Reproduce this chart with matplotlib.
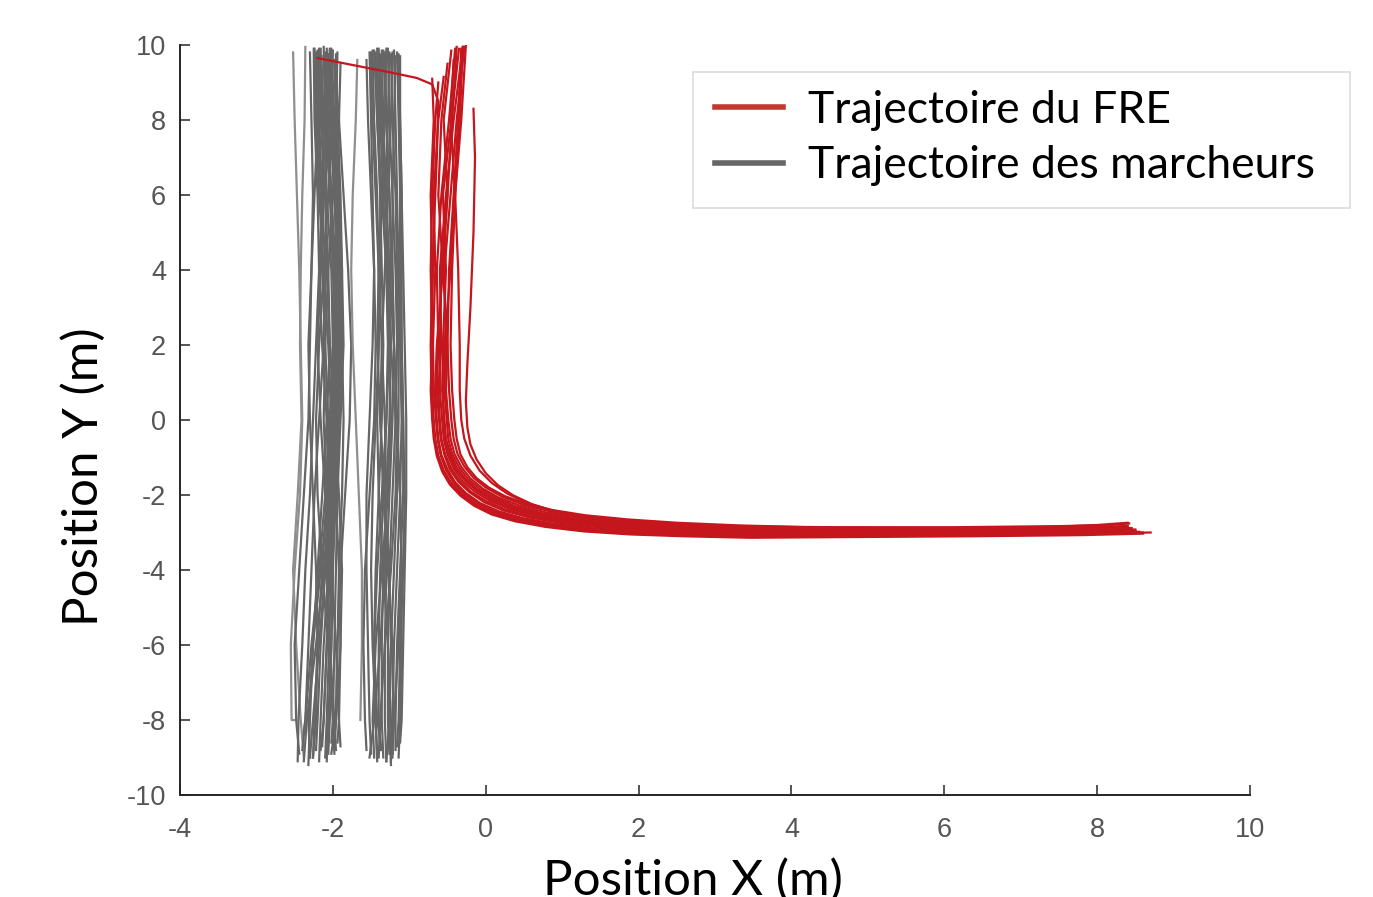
import matplotlib
matplotlib.use("Agg")
import matplotlib.pyplot as plt
from matplotlib.lines import Line2D
from matplotlib.patches import Rectangle

plt.rcParams["axes.unicode_minus"] = False

# ---- data: walker trajectories (x sampled at fixed y levels) ----
walker_levels = [8, 6, 4, 2, 0, -2, -4, -6, -8]

left_x = [
    [-2.52, -2.50, -2.47, -2.44, -2.42, -2.40, -2.43, -2.50, -2.55, -2.54, -2.50],
    [-2.36, -2.37, -2.40, -2.42, -2.43, -2.41, -2.46, -2.52, -2.48, -2.42, -2.38],
    [-2.25, -2.24, -2.20, -2.18, -2.22, -2.26, -2.30, -2.36, -2.40, -2.45, -2.46],
    [-2.20, -2.18, -2.14, -2.10, -2.12, -2.18, -2.24, -2.28, -2.32, -2.36, -2.38],
    [-2.18, -2.16, -2.10, -2.06, -2.04, -2.08, -2.14, -2.20, -2.26, -2.30, -2.32],
    [-2.15, -2.12, -2.08, -2.02, -2.00, -2.02, -2.08, -2.14, -2.20, -2.24, -2.26],
    [-2.12, -2.10, -2.04, -2.00, -1.96, -1.98, -2.04, -2.10, -2.16, -2.20, -2.22],
    [-2.10, -2.06, -2.02, -1.96, -1.94, -1.98, -2.02, -2.06, -2.12, -2.16, -2.18],
    [-2.08, -2.04, -1.98, -1.94, -1.92, -1.96, -2.00, -2.04, -2.08, -2.12, -2.14],
    [-2.06, -2.02, -1.96, -1.92, -1.90, -1.94, -1.98, -2.02, -2.05, -2.08, -2.10],
    [-2.04, -2.00, -1.94, -1.90, -1.88, -1.92, -1.96, -2.00, -2.02, -2.04, -2.06],
    [-2.02, -1.98, -1.92, -1.88, -1.86, -1.90, -1.94, -1.96, -1.98, -2.00, -2.02],
    [-1.98, -1.96, -1.92, -1.90, -1.88, -1.86, -1.88, -1.92, -1.94, -1.96, -1.98],
    [-2.22, -2.20, -2.16, -2.14, -2.10, -2.06, -2.02, -2.00, -2.02, -2.06, -2.08],
    [-2.16, -2.14, -2.12, -2.16, -2.20, -2.16, -2.10, -2.06, -2.08, -2.12, -2.16],
    [-2.08, -2.10, -2.14, -2.18, -2.14, -2.08, -2.06, -2.10, -2.18, -2.26, -2.30],
    [-2.00, -2.02, -2.06, -2.12, -2.18, -2.22, -2.20, -2.14, -2.06, -2.00, -1.98],
    [-1.94, -1.96, -2.00, -2.06, -2.10, -2.12, -2.08, -2.02, -1.96, -1.92, -1.90],
    [-2.24, -2.22, -2.18, -2.12, -2.06, -2.02, -2.04, -2.12, -2.22, -2.34, -2.38],
    [-2.12, -2.08, -2.02, -1.98, -2.00, -2.04, -2.10, -2.18, -2.28, -2.36, -2.40],
    [-1.90, -1.92, -1.94, -1.96, -1.98, -2.00, -1.96, -1.92, -1.90, -1.92, -1.94],
    [-2.30, -2.28, -2.26, -2.28, -2.30, -2.32, -2.38, -2.44, -2.50, -2.48, -2.44],
    [-2.04, -2.02, -1.98, -1.94, -1.96, -2.00, -2.06, -2.16, -2.26, -2.32, -2.30],
    [-1.96, -1.94, -1.90, -1.88, -1.90, -1.96, -2.04, -2.08, -2.04, -1.98, -1.96],
    [-1.98, -1.92, -1.86, -1.80, -1.76, -1.78, -1.84, -1.90, -1.94, -1.96, -1.98],
    [-2.18, -2.20, -2.24, -2.28, -2.32, -2.30, -2.26, -2.22, -2.20, -2.22, -2.26],
    [-2.06, -2.08, -2.10, -2.08, -2.04, -1.98, -1.92, -1.88, -1.90, -1.96, -2.02],
]
left_top = [9.80, 9.95, 9.90, 9.85, 9.90, 9.70, 9.95, 9.80, 9.90, 9.75, 9.85, 9.90, 9.60,
            9.80, 9.90, 9.70, 9.85, 9.80, 9.90, 9.70, 9.50, 9.80, 9.90, 9.75, 9.60, 9.85, 9.75]
left_bottom = [-8.0, -9.0, -9.1, -8.3, -9.2, -9.0, -8.8, -9.1, -8.7, -9.0, -8.9, -8.6, -8.6,
               -9.1, -8.8, -9.0, -8.9, -8.7, -9.1, -8.8, -8.6, -8.9, -9.0, -8.8, -8.7, -9.0, -8.9]
left_light = [True, True] + [False] * 25

right_x = [
    [-1.68, -1.70, -1.74, -1.76, -1.74, -1.70, -1.66, -1.62, -1.62, -1.64, -1.64],
    [-1.52, -1.50, -1.48, -1.46, -1.48, -1.52, -1.56, -1.56, -1.54, -1.52, -1.50],
    [-1.48, -1.46, -1.42, -1.40, -1.40, -1.44, -1.48, -1.50, -1.48, -1.44, -1.42],
    [-1.44, -1.42, -1.38, -1.36, -1.34, -1.36, -1.40, -1.44, -1.46, -1.44, -1.42],
    [-1.40, -1.38, -1.34, -1.30, -1.28, -1.30, -1.34, -1.38, -1.40, -1.40, -1.38],
    [-1.36, -1.34, -1.30, -1.26, -1.24, -1.26, -1.30, -1.34, -1.36, -1.36, -1.34],
    [-1.32, -1.30, -1.26, -1.22, -1.20, -1.22, -1.26, -1.30, -1.32, -1.32, -1.30],
    [-1.28, -1.26, -1.22, -1.18, -1.16, -1.18, -1.22, -1.26, -1.28, -1.28, -1.26],
    [-1.24, -1.22, -1.18, -1.16, -1.14, -1.14, -1.16, -1.20, -1.24, -1.26, -1.24],
    [-1.20, -1.18, -1.16, -1.14, -1.12, -1.10, -1.12, -1.16, -1.20, -1.22, -1.22],
    [-1.16, -1.14, -1.12, -1.12, -1.10, -1.08, -1.08, -1.12, -1.16, -1.18, -1.18],
    [-1.12, -1.12, -1.10, -1.10, -1.10, -1.08, -1.06, -1.08, -1.12, -1.14, -1.16],
    [-1.46, -1.42, -1.36, -1.30, -1.26, -1.24, -1.28, -1.36, -1.44, -1.48, -1.46],
    [-1.30, -1.32, -1.36, -1.40, -1.42, -1.38, -1.32, -1.26, -1.24, -1.26, -1.30],
    [-1.22, -1.24, -1.28, -1.32, -1.36, -1.38, -1.34, -1.28, -1.22, -1.20, -1.22],
    [-1.38, -1.36, -1.32, -1.26, -1.20, -1.16, -1.18, -1.24, -1.32, -1.38, -1.40],
    [-1.34, -1.30, -1.26, -1.24, -1.26, -1.30, -1.36, -1.42, -1.46, -1.42, -1.36],
    [-1.26, -1.28, -1.30, -1.28, -1.24, -1.18, -1.12, -1.10, -1.14, -1.20, -1.24],
    [-1.42, -1.40, -1.38, -1.38, -1.40, -1.42, -1.40, -1.34, -1.28, -1.24, -1.22],
    [-1.18, -1.20, -1.22, -1.22, -1.20, -1.16, -1.12, -1.10, -1.10, -1.12, -1.14],
    [-1.56, -1.54, -1.50, -1.46, -1.44, -1.46, -1.52, -1.58, -1.60, -1.58, -1.56],
    [-1.14, -1.12, -1.10, -1.08, -1.06, -1.04, -1.04, -1.06, -1.08, -1.10, -1.12],
    [-1.50, -1.48, -1.44, -1.40, -1.36, -1.32, -1.30, -1.32, -1.38, -1.46, -1.52],
]
right_top = [9.60, 9.80, 9.85, 9.80, 9.90, 9.85, 9.80, 9.90, 9.75, 9.85, 9.80, 9.70,
             9.85, 9.90, 9.80, 9.75, 9.85, 9.80, 9.90, 9.70, 9.60, 9.75, 9.80]
right_bottom = [-8.0, -8.9, -9.0, -9.1, -8.8, -9.0, -9.1, -8.9, -9.2, -9.0, -8.8, -8.7,
                -9.0, -9.1, -8.9, -9.0, -8.8, -9.1, -8.9, -9.0, -8.8, -8.6, -9.0]
right_light = [True] + [False] * 22

# ---- data: FRE trajectories, straight descent (top -> y=0.8) ----
fre_vert_x = [
    [-2.20, -1.70, -1.20, -0.90, -0.70, -0.62, -0.64, -0.68, -0.70, -0.70],
    [-0.70, -0.68, -0.72, -0.70, -0.72, -0.71],
    [-0.55, -0.62, -0.68, -0.66, -0.69, -0.68],
    [-0.40, -0.48, -0.58, -0.64, -0.62, -0.64],
    [-0.30, -0.42, -0.52, -0.60, -0.58, -0.62],
    [-0.45, -0.55, -0.50, -0.58, -0.60, -0.60],
    [-0.35, -0.45, -0.56, -0.52, -0.56, -0.57],
    [-0.28, -0.38, -0.46, -0.54, -0.52, -0.54],
    [-0.50, -0.58, -0.62, -0.56, -0.50, -0.52],
    [-0.32, -0.36, -0.42, -0.48, -0.50, -0.48],
    [-0.30, -0.34, -0.40, -0.44, -0.46, -0.44],
    [-0.42, -0.46, -0.40, -0.36, -0.34, -0.34],
    [-0.16, -0.14, -0.16, -0.20, -0.24, -0.26],
    [-0.62, -0.66, -0.70, -0.72, -0.70, -0.72],
    [-0.38, -0.44, -0.50, -0.56, -0.64, -0.66],
    [-0.26, -0.32, -0.40, -0.46, -0.54, -0.56],
]
fre_vert_y = [
    [9.65, 9.45, 9.25, 9.12, 8.95, 8.50, 7.00, 5.00, 3.00, 0.80],
    [9.10, 8.0, 6.0, 4.0, 2.0, 0.8],
    [9.15, 8.0, 6.0, 4.0, 2.0, 0.8],
    [9.90, 8.0, 6.0, 4.0, 2.0, 0.8],
    [9.95, 8.0, 6.0, 4.0, 2.0, 0.8],
    [9.85, 8.0, 6.0, 4.0, 2.0, 0.8],
    [9.90, 8.0, 6.0, 4.0, 2.0, 0.8],
    [9.95, 8.0, 6.0, 4.0, 2.0, 0.8],
    [9.50, 8.0, 6.0, 4.0, 2.0, 0.8],
    [9.90, 8.0, 6.0, 4.0, 2.0, 0.8],
    [9.95, 8.0, 6.0, 4.0, 2.0, 0.8],
    [9.60, 8.0, 6.0, 4.0, 2.0, 0.8],
    [8.30, 7.0, 5.0, 3.0, 1.5, 0.5],
    [9.00, 8.0, 6.0, 4.0, 2.0, 0.8],
    [9.95, 8.0, 6.0, 4.0, 2.0, 0.8],
    [9.98, 8.0, 6.0, 4.0, 2.0, 0.8],
]
# ---- data: FRE trajectories, turn and straight run along y = -3 ----
fre_turn_x = [
    [-0.68, -0.66, -0.62, -0.55, -0.45, -0.31, -0.12, 0.12, 0.43, 0.83, 1.33, 1.95, 2.65, 3.55, 5.0, 6.5, 8.0, 8.6],
    [-0.69, -0.67, -0.63, -0.56, -0.46, -0.32, -0.14, 0.10, 0.40, 0.80, 1.30, 1.90, 2.60, 3.50, 5.0, 6.5, 8.0, 8.7],
    [-0.65, -0.63, -0.59, -0.52, -0.42, -0.28, -0.09, 0.15, 0.46, 0.86, 1.36, 1.98, 2.70, 3.60, 5.0, 6.5, 8.0, 8.55],
    [-0.61, -0.59, -0.54, -0.47, -0.36, -0.21, -0.02, 0.23, 0.55, 0.96, 1.47, 2.10, 2.83, 3.70, 5.2, 6.7, 8.0, 8.5],
    [-0.60, -0.58, -0.53, -0.45, -0.34, -0.19, 0.01, 0.26, 0.58, 1.00, 1.52, 2.15, 2.88, 3.80, 5.2, 6.7, 8.0, 8.45],
    [-0.57, -0.55, -0.50, -0.42, -0.31, -0.15, 0.05, 0.31, 0.63, 1.05, 1.57, 2.20, 2.95, 3.90, 5.4, 6.8, 8.0, 8.5],
    [-0.54, -0.52, -0.46, -0.38, -0.26, -0.10, 0.11, 0.37, 0.70, 1.12, 1.65, 2.30, 3.05, 4.00, 5.5, 7.0, 8.0, 8.4],
    [-0.51, -0.49, -0.44, -0.35, -0.23, -0.07, 0.14, 0.40, 0.74, 1.16, 1.70, 2.35, 3.10, 4.10, 5.6, 7.0, 8.0, 8.45],
    [-0.49, -0.46, -0.41, -0.32, -0.20, -0.04, 0.17, 0.44, 0.78, 1.21, 1.75, 2.40, 3.20, 4.20, 5.7, 7.1, 8.0, 8.4],
    [-0.45, -0.42, -0.37, -0.28, -0.16, 0.00, 0.21, 0.48, 0.83, 1.26, 1.80, 2.45, 3.25, 4.30, 5.8, 7.2, 8.0, 8.4],
    [-0.41, -0.38, -0.33, -0.24, -0.12, 0.04, 0.25, 0.52, 0.87, 1.30, 1.85, 2.50, 3.30, 4.40, 5.9, 7.3, 8.0, 8.42],
    [-0.32, -0.28, -0.20, -0.08, 0.08, 0.28, 0.52, 0.82, 1.18, 1.60, 2.10, 2.70, 3.40, 4.50, 6.0, 7.4, 8.0, 8.4],
    [-0.24, -0.20, -0.12, 0.00, 0.16, 0.36, 0.60, 0.90, 1.26, 1.68, 2.18, 2.78, 3.50, 4.60, 6.1, 7.5, 8.2],
    [-0.70, -0.68, -0.64, -0.57, -0.47, -0.33, -0.15, 0.08, 0.38, 0.78, 1.28, 1.88, 2.58, 3.45, 4.9, 6.4, 7.8, 8.6],
    [-0.64, -0.62, -0.58, -0.50, -0.40, -0.26, -0.07, 0.18, 0.49, 0.90, 1.40, 2.02, 2.75, 3.65, 5.1, 6.6, 8.0, 8.5],
    [-0.55, -0.53, -0.48, -0.40, -0.28, -0.12, 0.08, 0.34, 0.67, 1.09, 1.61, 2.25, 3.00, 3.95, 5.45, 6.9, 8.0, 8.45],
]
fre_turn_y = [
    [0.0, -0.5, -0.95, -1.34, -1.68, -1.98, -2.25, -2.48, -2.66, -2.81, -2.93, -3.01, -3.07, -3.11, -3.08, -3.05, -3.02, -3.00],
    [0.0, -0.5, -0.95, -1.35, -1.70, -2.00, -2.27, -2.50, -2.68, -2.83, -2.95, -3.03, -3.08, -3.12, -3.10, -3.06, -3.03, -3.00],
    [0.0, -0.5, -0.94, -1.33, -1.67, -1.97, -2.23, -2.46, -2.64, -2.79, -2.91, -2.99, -3.05, -3.09, -3.08, -3.04, -3.00, -2.98],
    [0.0, -0.5, -0.93, -1.31, -1.64, -1.93, -2.19, -2.41, -2.59, -2.74, -2.86, -2.95, -3.01, -3.05, -3.04, -3.00, -2.97, -2.95],
    [0.0, -0.5, -0.92, -1.30, -1.63, -1.92, -2.17, -2.39, -2.57, -2.72, -2.84, -2.93, -2.99, -3.03, -3.02, -2.98, -2.95, -2.93],
    [0.0, -0.5, -0.92, -1.29, -1.62, -1.90, -2.15, -2.37, -2.55, -2.70, -2.82, -2.91, -2.97, -3.01, -3.00, -2.97, -2.94, -2.92],
    [0.0, -0.5, -0.91, -1.27, -1.59, -1.87, -2.11, -2.33, -2.51, -2.66, -2.78, -2.87, -2.93, -2.98, -2.98, -2.95, -2.92, -2.90],
    [0.0, -0.5, -0.90, -1.26, -1.58, -1.85, -2.09, -2.31, -2.49, -2.64, -2.76, -2.85, -2.91, -2.96, -2.96, -2.94, -2.90, -2.88],
    [0.0, -0.5, -0.90, -1.25, -1.56, -1.83, -2.07, -2.28, -2.46, -2.61, -2.73, -2.82, -2.88, -2.93, -2.94, -2.92, -2.88, -2.85],
    [0.0, -0.5, -0.90, -1.24, -1.54, -1.80, -2.04, -2.25, -2.43, -2.58, -2.69, -2.78, -2.85, -2.90, -2.92, -2.90, -2.86, -2.82],
    [0.0, -0.5, -0.92, -1.26, -1.55, -1.80, -2.03, -2.23, -2.40, -2.54, -2.65, -2.74, -2.81, -2.87, -2.89, -2.87, -2.82, -2.76],
    [0.0, -0.5, -0.95, -1.35, -1.68, -1.96, -2.20, -2.40, -2.55, -2.66, -2.74, -2.80, -2.84, -2.87, -2.88, -2.85, -2.80, -2.74],
    [-0.2, -0.65, -1.05, -1.42, -1.74, -2.01, -2.24, -2.43, -2.57, -2.67, -2.75, -2.80, -2.84, -2.86, -2.86, -2.83, -2.80],
    [0.0, -0.5, -0.96, -1.37, -1.72, -2.02, -2.29, -2.52, -2.70, -2.85, -2.97, -3.05, -3.10, -3.14, -3.12, -3.10, -3.07, -3.03],
    [0.0, -0.5, -0.93, -1.32, -1.66, -1.95, -2.22, -2.44, -2.62, -2.77, -2.89, -2.98, -3.04, -3.08, -3.07, -3.03, -2.99, -2.96],
    [0.0, -0.5, -0.91, -1.28, -1.60, -1.88, -2.13, -2.35, -2.53, -2.68, -2.80, -2.89, -2.95, -3.00, -2.99, -2.96, -2.92, -2.90],
]

x_ticks = [-4, -2, 0, 2, 4, 6, 8, 10]
y_ticks = [-10, -8, -6, -4, -2, 0, 2, 4, 6, 8, 10]
legend_labels = ["Trajectoire du FRE", "Trajectoire des marcheurs"]

RED = "#c4161c"
GRAY = "#666666"
GRAY_LIGHT = "#8f8f8f"
label_font = "Lato"

fig = plt.figure(figsize=(13.73, 8.97), dpi=100, facecolor="white")
ax = fig.add_axes([180 / 1373, 102 / 897, 1070 / 1373, 750 / 897])

for xs, top, bot, light in zip(left_x + right_x, left_top + right_top,
                               left_bottom + right_bottom, left_light + right_light):
    ys = [top] + walker_levels + [bot]
    ax.plot(xs, ys, color=GRAY_LIGHT if light else GRAY, linewidth=1.6,
            solid_joinstyle="round", zorder=1)

for vx, vy, tx, ty in zip(fre_vert_x, fre_vert_y, fre_turn_x, fre_turn_y):
    ax.plot(vx + tx, vy + ty, color=RED, linewidth=1.6, solid_joinstyle="round", zorder=2)

ax.set_xlim(-4, 10)
ax.set_ylim(-10, 10)
ax.set_xticks(x_ticks)
ax.set_yticks(y_ticks)
for side in ("top", "right"):
    ax.spines[side].set_visible(False)
for side in ("left", "bottom"):
    ax.spines[side].set_color("#262626")
    ax.spines[side].set_linewidth(1.4)
ax.tick_params(direction="in", length=7, width=1.1, color="#262626",
               labelsize=19.5, labelcolor="#555555")
ax.tick_params(axis="y", pad=10)
ax.tick_params(axis="x", pad=16)
for lab in ax.get_xticklabels() + ax.get_yticklabels():
    lab.set_fontfamily("Liberation Sans")

fig.text(693 / 1373, 2 / 897, "Position X (m)", ha="center", va="baseline",
         fontsize=35.5, family=label_font, color="black")
fig.text(83 / 1373, 1 - 477 / 897, "Position Y (m)", ha="center", va="center",
         rotation=90, fontsize=35.5, family=label_font, color="black")

# legend box (overlay style, wider than the entries)
fig.patches.append(Rectangle((693 / 1373, 1 - 208 / 897), 657 / 1373, 136 / 897,
                             transform=fig.transFigure, facecolor="white",
                             edgecolor="#dcdcdc", linewidth=1.2, zorder=3))
handles = [Line2D([], [], color="#c0392f", linewidth=4),
           Line2D([], [], color="#666666", linewidth=4)]
leg = fig.legend(handles, legend_labels, loc="upper left",
                 bbox_to_anchor=(697 / 1373, 1 - 72 / 897), frameon=False,
                 borderaxespad=0, prop={"family": label_font, "size": 32},
                 handlelength=1.53, handletextpad=0.56, labelspacing=0.33,
                 borderpad=0.4)
leg.set_zorder(4)

fig.savefig("out.png", dpi=100)
